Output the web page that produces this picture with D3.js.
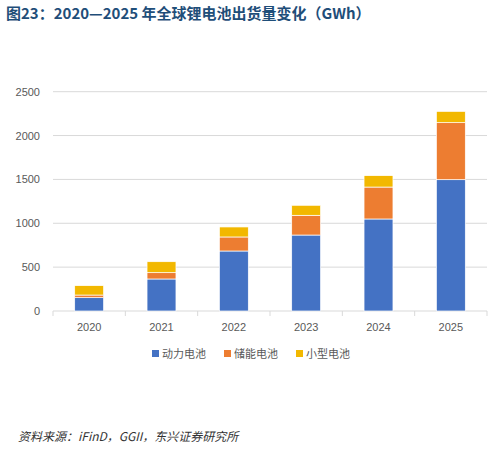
<!DOCTYPE html><html><head><meta charset="utf-8"><script src="https://cdn.jsdelivr.net/npm/d3@7"></script>
<style>body{margin:0;background:#fff}</style></head><body><svg id="c" width="492" height="449"></svg><script>
const years=["2020","2021","2022","2023","2024","2025"];
const power=[152,365,684,866,1049,1497];
const storage=[30,72,160,225,364,650];
const small=[107,125,114,114,130,129];
const seriesNames=["动力电池","储能电池","小型电池"];
const colors=["#4472c4","#ed7d31","#f2b800"];
const ticks=[0,500,1000,1500,2000,2500];
const svg=d3.select("#c");
const font="'Noto Sans CJK SC',sans-serif";
svg.append("text").attr("x",6).attr("y",19).attr("font-family",font).attr("font-weight","bold").attr("font-size",15).attr("fill","#1f4e79").text("图23：2020—2025 年全球锂电池出货量变化（GWh）");
const x=d3.scaleBand().domain(years).range([53,487]).paddingInner(0.6).paddingOuter(0.3);
const y=d3.scaleLinear().domain([0,2500]).range([311,91.7]);
const g=svg.append("g");
g.selectAll("line.g").data(ticks).join("line").attr("x1",53).attr("x2",487).attr("y1",d=>y(d)).attr("y2",d=>y(d)).attr("stroke","#d9d9d9");
g.selectAll("text.t").data(ticks).join("text").attr("x",40).attr("y",d=>y(d)+4).attr("text-anchor","end").attr("font-family","Liberation Sans,Arial").attr("font-size",11).attr("fill","#595959").text(d=>d);
const band=x.step();
years.forEach((yr,i)=>{const cx=53+band*i;g.append("line").attr("x1",cx).attr("x2",cx).attr("y1",311).attr("y2",316).attr("stroke","#d9d9d9");});
g.append("line").attr("x1",487).attr("x2",487).attr("y1",311).attr("y2",316).attr("stroke","#d9d9d9");
const data=years.map((yr,i)=>({yr,a:power[i],b:storage[i],c:small[i]}));
const st=d3.stack().keys(["a","b","c"])(data);
st.forEach((s,k)=>{g.selectAll(null).data(s).join("rect").attr("x",d=>x(d.data.yr)).attr("width",x.bandwidth()).attr("y",d=>y(d[1])).attr("height",d=>y(d[0])-y(d[1])).attr("fill",colors[k]).attr("stroke","#fff").attr("stroke-width",0.7);});
g.selectAll("text.x").data(years).join("text").attr("x",d=>x(d)+x.bandwidth()/2).attr("y",331).attr("text-anchor","middle").attr("font-family","Liberation Sans,Arial").attr("font-size",11).attr("fill","#595959").text(d=>d);
const lx=[152,224,296];
seriesNames.forEach((n,i)=>{svg.append("rect").attr("x",lx[i]).attr("y",350).attr("width",7).attr("height",7).attr("fill",colors[i]);svg.append("text").attr("x",lx[i]+10).attr("y",358).attr("font-family",font).attr("font-size",11).attr("fill","#595959").text(n);});
svg.append("text").attr("x",18).attr("y",441).attr("font-family",font).attr("font-style","italic").attr("font-size",12).attr("fill","#333").attr("transform","skewX(0)").text("资料来源：iFinD，GGII，东兴证券研究所");
</script></body></html>
